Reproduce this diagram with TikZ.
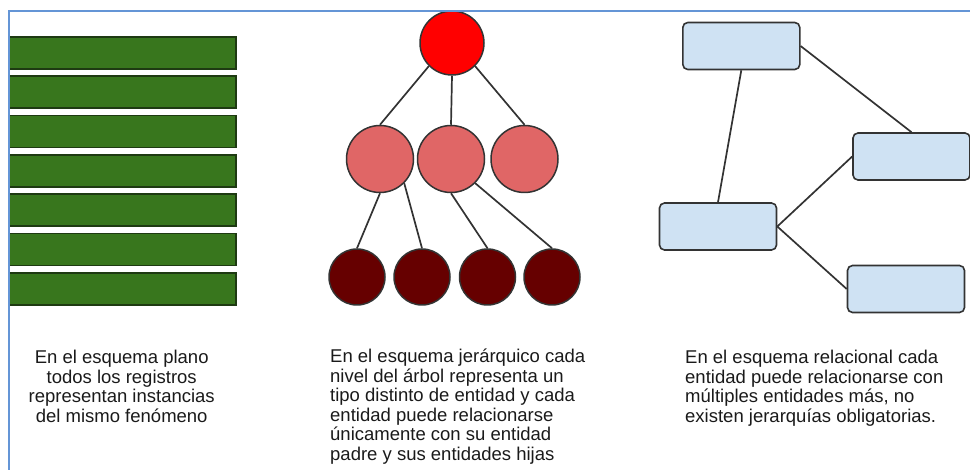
\documentclass[tikz,border=0pt]{standalone}
\usepackage{fontspec}
\setmainfont{Liberation Sans}
\definecolor{framblue}{HTML}{6495D6}
\definecolor{barfill}{HTML}{38761D}
\definecolor{barline}{HTML}{1E3A12}
\definecolor{rootred}{HTML}{FF0000}
\definecolor{midred}{HTML}{E06666}
\definecolor{leafred}{HTML}{660000}
\definecolor{boxblue}{HTML}{CFE2F3}
\definecolor{inkgray}{HTML}{333333}
\definecolor{textgray}{HTML}{1A1A1A}
\begin{document}
\begin{tikzpicture}[x=1pt,y=-1pt,
	bar/.style={draw=barline,fill=barfill,line width=1.8pt,minimum width=227pt,minimum height=32pt,inner sep=0pt},
	ball/.style={circle,draw=inkgray,line width=1.5pt,inner sep=0pt},
	entity/.style={draw=inkgray,fill=boxblue,rounded corners=5pt,line width=1.6pt,minimum width=117pt,minimum height=47pt,inner sep=0pt},
	link/.style={draw=inkgray,line width=1.7pt},
	caption/.style={font=\fontsize{18.5}{19.5}\selectfont,text=textgray,inner sep=0pt}]
				\useasboundingbox (0,0) rectangle (970,470);
				% plano
				\foreach \i in {1,...,7}
					\node [bar] (bar\i) at (122.5,{53+39.3*(\i-1)}) {};
				
				% jerarquico
				\node [ball,fill=rootred,minimum size=64pt] (root) at (452,43) {};
				\node [ball,fill=midred,minimum size=67pt] (midA) at (380,159) {};
				\node [ball,fill=midred,minimum size=67pt] (midB) at (451,159) {};
				\node [ball,fill=midred,minimum size=67pt] (midC) at (524.5,159) {};
				\node [ball,fill=leafred,minimum size=56pt] (leafA) at (357,277) {};
				\node [ball,fill=leafred,minimum size=56pt] (leafB) at (422,277) {};
				\node [ball,fill=leafred,minimum size=56pt] (leafC) at (487.5,277) {};
				\node [ball,fill=leafred,minimum size=56pt] (leafD) at (552,277) {};
				\draw [link] (root.south west) -- (midA.north);
				\draw [link] (root.south) -- (midB.north);
				\draw [link] (root.south east) -- (midC.north);
				\draw [link] (midA.south) -- (leafA.north);
				\draw [link] (midA.south east) -- (leafB.north);
				\draw [link] (midB.south) -- (leafC.north);
				\draw [link] (midB.south east) -- (leafD.north);
				
				% relacional
				\node [entity] (entA) at (741.3,46) {};
				\node [entity] (entB) at (911.5,156.5) {};
				\node [entity] (entC) at (718,226.5) {};
				\node [entity] (entD) at (906,289) {};
				\draw [link] (entA.south) -- (entC.north);
				\draw [link] (entA.east) -- (entB.north);
				\draw [link] (entC.east) -- (entB.west);
				\draw [link] (entC.east) -- (entD.west);
				
				% textos
				\node [caption,anchor=north,align=center] (txtplano) at (121.7,350) {En el esquema plano\\todos los registros\\representan instancias\\del mismo fenómeno};
				\node [caption,anchor=north west,align=left] (txtjerarq) at (330,349) {En el esquema jerárquico cada\\nivel del árbol representa un\\tipo distinto de entidad y cada\\entidad puede relacionarse\\únicamente con su entidad\\padre y sus entidades hijas};
				\node [caption,anchor=north west,align=left] (txtrel) at (685,350) {En el esquema relacional cada\\entidad puede relacionarse con\\múltiples entidades más, no\\existen jerarquías obligatorias.};
				
				\draw [framblue,line width=1.5pt] (9,470) -- (9,11) -- (970,11);
			\end{tikzpicture}
\end{document}
